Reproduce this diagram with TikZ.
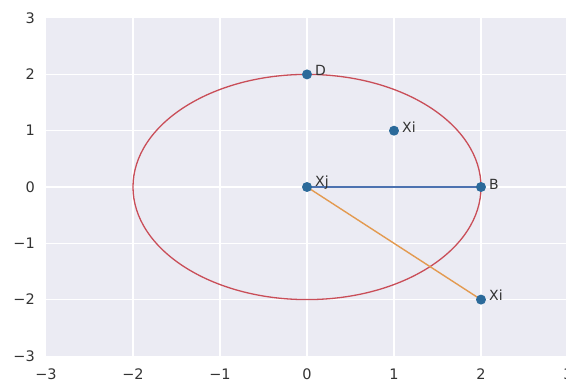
\documentclass[tikz,border=0pt]{standalone}
\usepackage{fontspec}
\setmainfont{DejaVu Sans}
\definecolor{bgc}{HTML}{EBEBF3}
\definecolor{ptc}{HTML}{2B6A9A}
\definecolor{bluel}{HTML}{4C72B0}
\definecolor{orangel}{HTML}{E39A50}
\definecolor{redl}{HTML}{C94E58}
\definecolor{txt}{HTML}{333333}
\tikzset{
  grid line/.style={white, line width=1.4pt},
  tick label/.style={text=txt, font=\fontsize{14.5}{16}\selectfont, inner sep=0pt},
  pt/.style={circle, fill=ptc, inner sep=0pt, minimum size=10pt},
  ptlabel/.style={text=txt, font=\fontsize{14}{16}\selectfont, anchor=west, inner sep=1pt},
}
\begin{document}
\begin{tikzpicture}[x=87pt,y=56.3pt]
\useasboundingbox (-307pt,-196pt) rectangle (259pt,187pt);
\clip (-307pt,-196pt) rectangle (259pt,187pt);
\fill[bgc] (-3,-3) rectangle (3,3);
\foreach \v in {-2,-1,0,1,2} {
  \draw[grid line] (\v,-3) -- (\v,3);
  \draw[grid line] (-3,\v) -- (3,\v);
}
\foreach \v/\t in {-3/−3,-2/−2,-1/−1,0/0,1/1,2/2,3/3} {
  \node[tick label, anchor=east] at (-272pt,\v) {\t};
  \node[tick label, anchor=north] at (\v,-182pt) {\t};
}
\draw[redl, line width=1.3pt] (0,0) ellipse [x radius=2, y radius=2];
\coordinate (cXj) at (0,0);
\coordinate (cB) at (2,0);
\coordinate (cXi2) at (2,-2);
\draw[bluel, line width=1.8pt] (cXj) -- (cB);
\draw[orangel, line width=1.4pt] (cXj) -- (cXi2);
\node[pt] (D) at (0,2) {};
\node[pt] (Xi1) at (1,1) {};
\node[pt] (Xj) at (cXj) {};
\node[pt] (B) at (cB) {};
\node[pt] (Xi2) at (cXi2) {};
\node[ptlabel] at ([xshift=7pt,yshift=4pt]D.center) {D};
\node[ptlabel] at ([xshift=7pt,yshift=4pt]Xi1.center) {Xi};
\node[ptlabel] at ([xshift=7pt,yshift=4pt]Xj.center) {Xj};
\node[ptlabel] at ([xshift=7pt,yshift=3pt]B.center) {B};
\node[ptlabel] at ([xshift=7pt,yshift=4pt]Xi2.center) {Xi};
\end{tikzpicture}
\end{document}
